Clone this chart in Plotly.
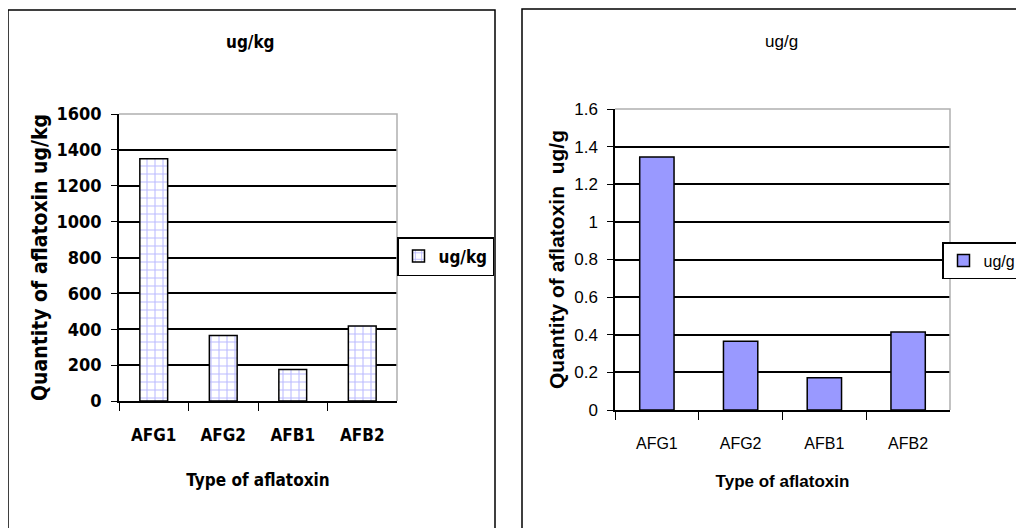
import plotly.graph_objects as go

categories = ["AFG1", "AFG2", "AFB1", "AFB2"]
ugkg_values = [1350, 365, 175, 418]
ugg_values = [1.345, 0.365, 0.172, 0.415]
left_ticks = [0, 200, 400, 600, 800, 1000, 1200, 1400, 1600]
right_ticks = [0, 0.2, 0.4, 0.6, 0.8, 1.0, 1.2, 1.4, 1.6]
right_ticktext = ["0", "0.2", "0.4", "0.6", "0.8", "1", "1.2", "1.4", "1.6"]

# page body has an 8px margin; size the figure to fill the rest of the window
OFF = 8
W, H = 1024 - OFF, 528 - OFF
def px(x): return (x - OFF) / W
def py(y): return 1 - (y - OFF) / H

BOLD = "DejaVu Sans Condensed, Liberation Sans, Arial"
REG = "Liberation Sans, Arial"

fig = go.Figure()
fig.add_trace(go.Bar(
    x=categories, y=ugkg_values, name="ug/kg", width=0.4, showlegend=True,
    marker=dict(color="white", line=dict(color="black", width=1.5),
                pattern=dict(shape="+", fgcolor="#7777ff", bgcolor="white", size=8, solidity=0.25)),
    xaxis="x", yaxis="y", legend="legend",
))
fig.add_trace(go.Bar(
    x=categories, y=ugg_values, name="ug/g", width=0.41, showlegend=True,
    marker=dict(color="#9999ff", line=dict(color="black", width=1.5)),
    xaxis="x2", yaxis="y2", legend="legend2",
))

common_x = dict(showline=True, linecolor="black", linewidth=1.5, ticks="outside", ticklen=8,
                tickcolor="black", tickson="boundaries", showgrid=False, automargin=False)
common_y = dict(showline=True, linecolor="black", linewidth=1.5, ticks="outside", ticklen=6,
                tickcolor="black", showgrid=True, gridcolor="black", gridwidth=2, zeroline=False,
                automargin=False)

fig.update_layout(
    width=W, height=H, margin=dict(l=0, r=0, t=0, b=0, autoexpand=False),
    paper_bgcolor="white", plot_bgcolor="white", bargap=0.5, showlegend=True,
    xaxis=dict(domain=[px(119), px(397)], anchor="y",
               tickfont=dict(family=BOLD, size=17, color="black", weight="bold"), ticklabelstandoff=18,
               title=dict(text="Type of aflatoxin", font=dict(family=BOLD, size=17, color="black", weight="bold"), standoff=30),
               **common_x),
    yaxis=dict(domain=[py(401), py(114)], anchor="x", range=[0, 1600], tickvals=left_ticks,
               tickfont=dict(family=BOLD, size=18, color="black", weight="bold"), ticklabelstandoff=6,
               title=dict(text="Quantity of aflatoxin ug/kg", font=dict(family=BOLD, size=21, color="black", weight="bold"), standoff=3),
               **common_y),
    xaxis2=dict(domain=[px(615), px(950)], anchor="y2",
                tickfont=dict(family=REG, size=16, color="black"), ticklabelstandoff=18,
                title=dict(text="Type of aflatoxin", font=dict(family=REG, size=17, color="black", weight="bold"), standoff=24),
                **common_x),
    yaxis2=dict(domain=[py(410), py(109)], anchor="x2", range=[0, 1.6], tickvals=right_ticks, ticktext=right_ticktext,
                tickfont=dict(family=REG, size=17, color="black"), ticklabelstandoff=6,
                title=dict(text="Quantity of aflatoxin  ug/g", font=dict(family=REG, size=21, color="black", weight="bold"), standoff=4),
                **common_y),
    legend=dict(x=px(397), y=py(237), xanchor="left", yanchor="top", bordercolor="black", borderwidth=1.5,
                bgcolor="white", font=dict(family=BOLD, size=17, color="black", weight="bold"), itemwidth=30),
    legend2=dict(x=px(942), y=py(242), xanchor="left", yanchor="top", bordercolor="black", borderwidth=1.5,
                 bgcolor="white", font=dict(family=REG, size=16, color="black"), itemwidth=30),
    annotations=[
        dict(text="ug/kg", x=px(250), y=py(42), xref="paper", yref="paper", showarrow=False,
             xanchor="center", yanchor="middle",
             font=dict(family=BOLD, size=17, color="black", weight="bold")),
        dict(text="ug/g", x=px(781), y=py(41), xref="paper", yref="paper", showarrow=False,
             xanchor="center", yanchor="middle",
             font=dict(family=REG, size=17, color="black")),
    ],
    shapes=[
        dict(type="rect", xref="paper", yref="paper", x0=px(8), x1=px(495), y0=py(540), y1=py(10),
             line=dict(color="black", width=1.5), layer="below"),
        dict(type="rect", xref="paper", yref="paper", x0=px(522), x1=px(1040), y0=py(540), y1=py(9),
             line=dict(color="black", width=1.5), layer="below"),
        dict(type="path", xref="x domain", yref="y domain", path="M 0 1 L 1 1 L 1 0",
             line=dict(color="#b0b0b0", width=1.5)),
        dict(type="path", xref="x2 domain", yref="y2 domain", path="M 0 1 L 1 1 L 1 0",
             line=dict(color="#b0b0b0", width=1.5)),
    ],
)

fig.write_html("out.html")
